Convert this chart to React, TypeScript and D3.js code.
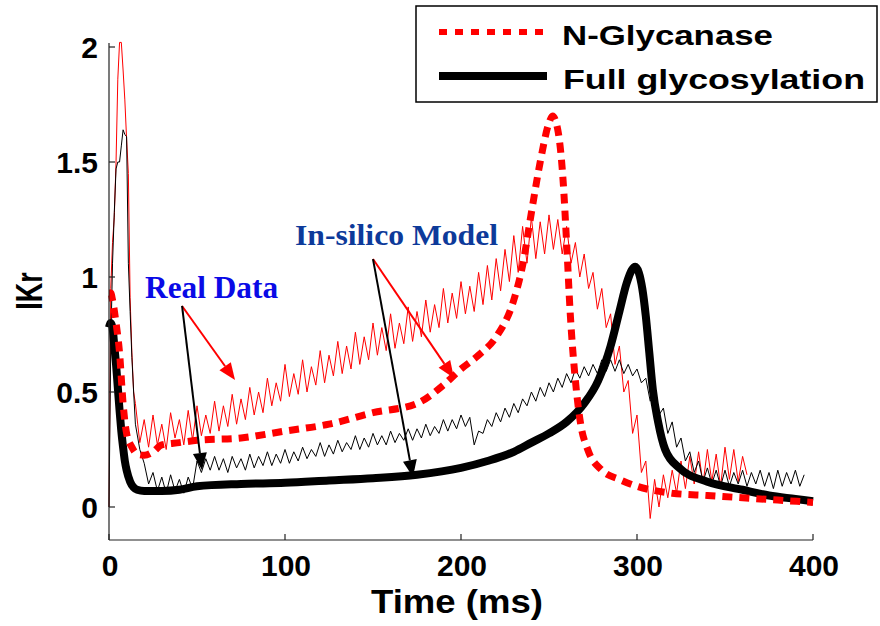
import React from "react";
import * as d3 from "d3";

// time axis (ms) and IKr axis
const xTicks = [0, 100, 200, 300, 400];
const yTicks = [0, 0.5, 1, 1.5, 2];
const yTickLabels = ["0", "0.5", "1", "1.5", "2"];

// in-silico model, N-Glycanase (red dashed)
const modelRedT = [0, 1, 2, 4, 6, 8, 10, 13, 16, 20, 25, 30, 40, 50, 75, 100, 125, 150, 175, 190, 200, 210, 220, 230, 235, 240, 245, 250, 252, 255, 258, 260, 262, 265, 268, 272, 280, 290, 300, 320, 340, 360, 380, 400];
const modelRedV = [0.93, 0.93, 0.9, 0.8, 0.67, 0.45, 0.32, 0.26, 0.23, 0.225, 0.24, 0.27, 0.28, 0.29, 0.3, 0.33, 0.36, 0.41, 0.45, 0.53, 0.6, 0.66, 0.74, 0.9, 1.05, 1.28, 1.5, 1.67, 1.7, 1.64, 1.42, 1.15, 0.85, 0.55, 0.36, 0.25, 0.16, 0.12, 0.09, 0.06, 0.05, 0.04, 0.03, 0.02];

// in-silico model, full glycosylation (black thick)
const modelBlackT = [0, 1, 2, 3, 4, 5, 6, 7, 8, 9, 10, 12, 14, 16, 20, 30, 40, 50, 75, 100, 125, 150, 175, 200, 215, 230, 240, 250, 260, 270, 278, 285, 290, 294, 297, 299, 301, 303, 305, 307, 309, 312, 316, 324, 340, 360, 375, 390, 400];
const modelBlackV = [0.78, 0.8, 0.78, 0.7, 0.62, 0.52, 0.42, 0.33, 0.26, 0.2, 0.16, 0.11, 0.085, 0.075, 0.07, 0.07, 0.075, 0.09, 0.1, 0.105, 0.115, 0.125, 0.14, 0.17, 0.2, 0.24, 0.28, 0.32, 0.37, 0.45, 0.55, 0.7, 0.85, 0.97, 1.03, 1.045, 1.02, 0.95, 0.83, 0.67, 0.51, 0.37, 0.25, 0.17, 0.11, 0.075, 0.05, 0.035, 0.025];

// real data: initial spike (irregular) then samples every 2.5 ms from 15 ms
const realStart = 15;
const realStep = 2.5;

const realRedSpikeT = [0, 1, 2, 3, 4, 5, 6, 7, 8, 9, 10, 11, 12, 13, 14];
const realRedSpikeV = [0, 0.95, 1.15, 1.26, 1.5, 1.86, 2.02, 2.02, 1.9, 1.77, 1.6, 1.45, 0.91, 0.67, 0.5];
const realRed = [
  0.45, 0.28, 0.38, 0.26, 0.4, 0.27, 0.36, 0.25, 0.41, 0.3, 0.38, 0.27, 0.42, 0.29, 0.44, 0.31,
  0.4, 0.32, 0.46, 0.33, 0.44, 0.35, 0.49, 0.36, 0.47, 0.38, 0.52, 0.4, 0.5, 0.41, 0.56, 0.44,
  0.54, 0.46, 0.62, 0.48, 0.58, 0.49, 0.64, 0.5, 0.61, 0.53, 0.68, 0.54, 0.66, 0.57, 0.72, 0.58,
  0.7, 0.6, 0.76, 0.62, 0.74, 0.64, 0.8, 0.66, 0.78, 0.68, 0.84, 0.69, 0.8, 0.71, 0.87, 0.72,
  0.85, 0.74, 0.9, 0.76, 0.88, 0.78, 0.95, 0.8, 0.93, 0.82, 0.98, 0.84, 0.96, 0.85, 1.02, 0.88,
  1.05, 0.9, 1.08, 0.94, 1.12, 0.98, 1.18, 1.02, 1.22, 1.06, 1.26, 1.08, 1.24, 1.1, 1.27, 1.12,
  1.25, 1.1, 1.22, 1.06, 1.15, 1.0, 1.1, 0.95, 1.02, 0.86, 0.95, 0.78, 0.84, 0.62, 0.7, 0.5,
  0.55, 0.32, 0.4, 0.15, 0.2, -0.05, 0.12, 0.0, 0.14, 0.04, 0.16, 0.06, 0.2, 0.08, 0.22, 0.1,
  0.24, 0.1, 0.25, 0.11, 0.23, 0.09, 0.26, 0.12, 0.25, 0.11, 0.22, 0.14
];

const realBlackSpikeT = [0, 1, 2, 3, 4, 5, 6, 7, 8, 9, 10, 11, 12, 13, 14];
const realBlackSpikeV = [0, 0.7, 1.06, 1.28, 1.47, 1.5, 1.5, 1.57, 1.64, 1.62, 1.61, 1.06, 0.85, 0.65, 0.5];
const realBlack = [
  0.36, 0.25, 0.19, 0.1, 0.15, 0.07, 0.13, 0.06, 0.14, 0.07, 0.12, 0.06, 0.13, 0.08, 0.2, 0.15,
  0.21, 0.16, 0.22, 0.16, 0.21, 0.15, 0.22, 0.17, 0.21, 0.16, 0.23, 0.17, 0.22, 0.18, 0.24, 0.18,
  0.23, 0.19, 0.25, 0.19, 0.24, 0.2, 0.26, 0.21, 0.25, 0.22, 0.28, 0.22, 0.27, 0.23, 0.29, 0.24,
  0.28, 0.25, 0.31, 0.25, 0.3, 0.26, 0.32, 0.27, 0.31, 0.27, 0.33, 0.28, 0.32, 0.29, 0.34, 0.29,
  0.34, 0.3, 0.36, 0.31, 0.35, 0.32, 0.38, 0.33, 0.38, 0.34, 0.4, 0.35, 0.39, 0.27, 0.33, 0.32,
  0.38, 0.35, 0.41, 0.37, 0.43, 0.39, 0.45, 0.41, 0.47, 0.44, 0.5, 0.46, 0.52, 0.48, 0.54, 0.5,
  0.56, 0.52, 0.58, 0.54, 0.6, 0.56, 0.61, 0.57, 0.62, 0.58, 0.64, 0.59, 0.64, 0.59, 0.64, 0.58,
  0.62, 0.57, 0.6, 0.54, 0.56, 0.46, 0.5, 0.4, 0.43, 0.32, 0.37, 0.26, 0.3, 0.2, 0.24, 0.15,
  0.2, 0.11, 0.17, 0.1, 0.16, 0.09, 0.16, 0.09, 0.15, 0.1, 0.16, 0.09, 0.15, 0.1, 0.16, 0.09,
  0.15, 0.08, 0.16, 0.09, 0.15, 0.1, 0.16, 0.09, 0.14
];

// annotations in data units: [t, IKr]
const realLabelAt = [20.5, 0.91];
const realArrowFrom = [41.5, 0.874];
const realArrowTo = [[71.6, 0.552, "#ff0000"], [52.8, 0.161, "#000000"]];
const modelLabelAt = [105.7, 1.139];
const modelArrowFrom = [150, 1.078];
const modelArrowTo = [[196, 0.561, "#ff0000"], [172.7, 0.13, "#000000"]];

const W = 880;
const H = 626;
const arial = "'Liberation Sans', Arial, sans-serif";
const times = "'Liberation Serif', 'Times New Roman', serif";

function joinSeries(spT: number[], spV: number[], vals: number[]): [number, number][] {
  const pts: [number, number][] = spT.map((t, i) => [t, spV[i]]);
  vals.forEach((v, i) => pts.push([realStart + i * realStep, v]));
  return pts;
}

function Arrow({ x1, y1, x2, y2, color }: { x1: number; y1: number; x2: number; y2: number; color: string }) {
  const ang = Math.atan2(y2 - y1, x2 - x1);
  const len = 17;
  const half = 7;
  const bx = x2 - len * Math.cos(ang);
  const by = y2 - len * Math.sin(ang);
  const px = -Math.sin(ang) * half;
  const py = Math.cos(ang) * half;
  return (
    <g>
      <line x1={x1} y1={y1} x2={bx} y2={by} stroke={color} strokeWidth={2} />
      <polygon points={`${x2},${y2} ${bx + px},${by + py} ${bx - px},${by - py}`} fill={color} />
    </g>
  );
}

export default function App() {
  const x = d3.scaleLinear().domain([0, 400]).range([109, 813]);
  const y = d3.scaleLinear().domain([-0.1435, 2.0174]).range([540, 43]);

  const rawLine = d3.line<[number, number]>().x(d => x(d[0])).y(d => y(d[1]));
  const smoothLine = d3.line<[number, number]>().x(d => x(d[0])).y(d => y(d[1])).curve(d3.curveMonotoneX);

  const redReal = joinSeries(realRedSpikeT, realRedSpikeV, realRed);
  const blackReal = joinSeries(realBlackSpikeT, realBlackSpikeV, realBlack);
  const redModel: [number, number][] = modelRedT.map((t, i) => [t, modelRedV[i]]);
  const blackModel: [number, number][] = modelBlackT.map((t, i) => [t, modelBlackV[i]]);

  const [x0, x1] = x.range();
  const [yb, yt] = y.range();

  return (
    <svg width={W} height={H} style={{ position: "absolute", left: 0, top: 0, background: "#fff" }}>
      <rect width={W} height={H} fill="#fff" />

      {/* data */}
      <path d={rawLine(redReal) || ""} fill="none" stroke="#ff0000" strokeWidth={1} />
      <path d={rawLine(blackReal) || ""} fill="none" stroke="#000" strokeWidth={1} />
      <path d={smoothLine(blackModel) || ""} fill="none" stroke="#000" strokeWidth={8} strokeLinejoin="round" />
      <path d={smoothLine(redModel) || ""} fill="none" stroke="#ff0000" strokeWidth={7} strokeDasharray="10,7" />

      {/* axes */}
      <line x1={x0} y1={yb} x2={x1} y2={yb} stroke="#222" strokeWidth={1.2} />
      <line x1={x0} y1={yb} x2={x0} y2={yt} stroke="#222" strokeWidth={1.2} />
      {xTicks.map(t => (
        <g key={"xt" + t}>
          <line x1={x(t)} y1={yb} x2={x(t)} y2={yb - 6} stroke="#222" strokeWidth={1.2} />
          <text x={x(t) + 1} y={576} textAnchor="middle" fontFamily={arial} fontWeight="bold" fontSize={30}>{t}</text>
        </g>
      ))}
      {yTicks.map((v, i) => (
        <g key={"yt" + v}>
          <line x1={x0} y1={y(v)} x2={x0 + 6} y2={y(v)} stroke="#222" strokeWidth={1.2} />
          <text x={98} y={y(v) + 11} textAnchor="end" fontFamily={arial} fontWeight="bold" fontSize={30}>{yTickLabels[i]}</text>
        </g>
      ))}
      <text x={457} y={613} textAnchor="middle" fontFamily={arial} fontWeight="bold" fontSize={33} textLength={172} lengthAdjust="spacingAndGlyphs">Time (ms)</text>
      <text transform="translate(42,291) rotate(-90) scale(1,1.35)" textAnchor="middle" fontFamily={arial} fontWeight="bold" fontSize={27}>IKr</text>

      {/* annotations */}
      <text x={x(realLabelAt[0])} y={y(realLabelAt[1])} fontFamily={times} fontWeight="bold" fontSize={32} fill="#0a0ae6" textLength={133} lengthAdjust="spacingAndGlyphs">Real Data</text>
      {realArrowTo.map((a, i) => (
        <Arrow key={"ra" + i} x1={x(realArrowFrom[0])} y1={y(realArrowFrom[1])} x2={x(a[0] as number)} y2={y(a[1] as number)} color={a[2] as string} />
      ))}
      <text x={x(modelLabelAt[0])} y={y(modelLabelAt[1])} fontFamily={times} fontWeight="bold" fontSize={30} fill="#0d3a9a" textLength={203} lengthAdjust="spacingAndGlyphs">In-silico Model</text>
      {modelArrowTo.map((a, i) => (
        <Arrow key={"ma" + i} x1={x(modelArrowFrom[0])} y1={y(modelArrowFrom[1])} x2={x(a[0] as number)} y2={y(a[1] as number)} color={a[2] as string} />
      ))}

      {/* legend */}
      <rect x={416} y={6} width={461} height={96} fill="#fff" stroke="#000" strokeWidth={1.5} />
      <line x1={439} y1={32} x2={546} y2={32} stroke="#ff0000" strokeWidth={6} strokeDasharray="8,8" />
      <text x={562} y={45} fontFamily={arial} fontWeight="bold" fontSize={27} textLength={211} lengthAdjust="spacingAndGlyphs">N-Glycanase</text>
      <line x1={439} y1={76} x2={547} y2={76} stroke="#000" strokeWidth={8} />
      <text x={563} y={89} fontFamily={arial} fontWeight="bold" fontSize={27} textLength={302} lengthAdjust="spacingAndGlyphs">Full glycosylation</text>
    </svg>
  );
}
